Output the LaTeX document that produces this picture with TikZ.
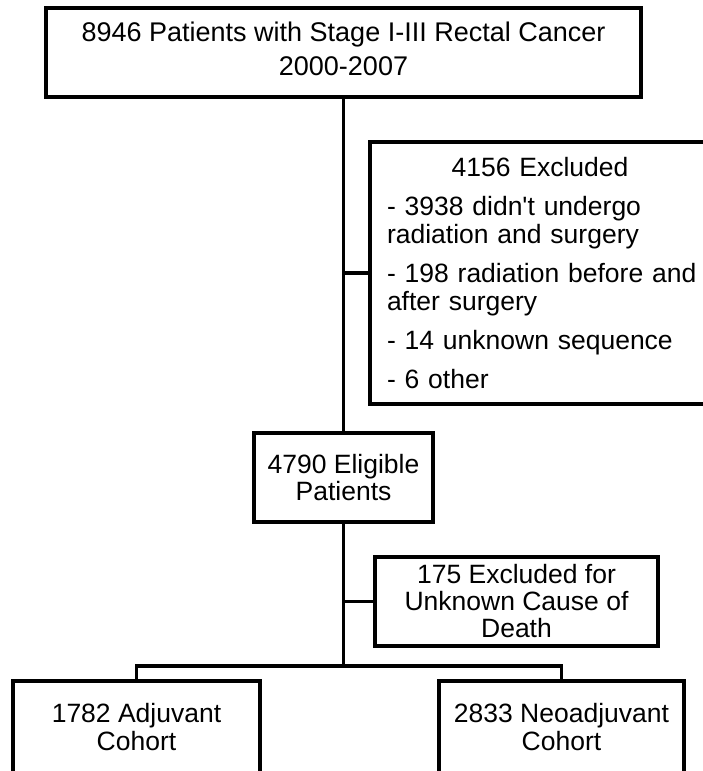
\documentclass[tikz,border=0pt]{standalone}
\usepackage{fontspec}
\setmainfont{Liberation Sans}
\tikzset{
  box/.style={draw, line width=3.5pt, align=center, inner sep=0pt,
    font=\fontsize{26.5}{27}\selectfont},
  link/.style={line width=3.5pt}
}
\begin{document}
\begin{tikzpicture}[x=1pt,y=-1pt]
  \useasboundingbox (0,0) rectangle (703,771);
  \clip (0,0) rectangle (703,771);
  % boxes
  \node[box, minimum width=595pt, minimum height=89pt, text depth=7pt,
    font=\fontsize{27}{34}\selectfont] (all) at (343.5,52.5)
    {8946 Patients with Stage I-III Rectal Cancer\\2000-2007};
  \node[box, minimum width=354pt, minimum height=262pt, text width=320pt,
    align=left, font=\fontsize{26.5}{28}\selectfont] (excl) at (547,273)
    {\makebox[306pt]{4156 Excluded}\\[11pt]
     - 3938 didn\textquotesingle t undergo\\radiation and surgery\\[11pt]
     - 198 radiation before and\\after surgery\\[11pt]
     - 14 unknown sequence\\[11pt]
     - 6 other};
  \node[box, minimum width=179pt, minimum height=89pt] (elig) at (343.5,477.5)
    {4790 Eligible\\Patients};
  \node[box, minimum width=283pt, minimum height=89pt] (unk) at (516.5,601.5)
    {175 Excluded for\\Unknown Cause of\\Death};
  \node[box, minimum width=247pt, minimum height=92pt,
    font=\fontsize{26.5}{28}\selectfont] (adj) at (136.5,727)
    {1782 Adjuvant\\Cohort};
  \node[box, minimum width=245pt, minimum height=92pt,
    font=\fontsize{26.5}{28}\selectfont] (neo) at (561.5,727)
    {2833 Neoadjuvant\\Cohort};
  % connectors
  \coordinate (split) at (343.5,666);
  \draw[link] (all) -- (elig);
  \draw[link] (elig) -- (split);
  \draw[link] (excl.west) -- (excl.west -| all.south);
  \draw[link] (unk.west) -- (unk.west -| elig.south);
  \draw[link] (adj.north) |- (split) -| (neo.north);
\end{tikzpicture}
\end{document}
